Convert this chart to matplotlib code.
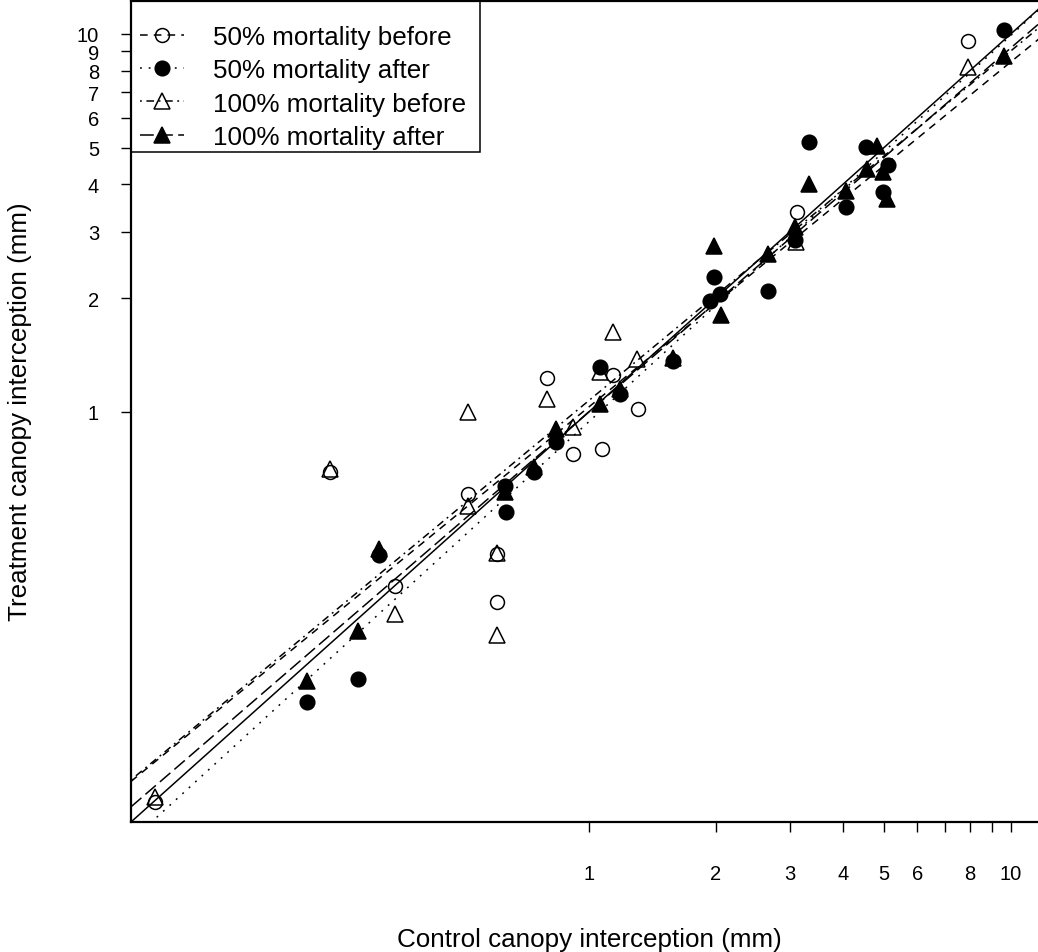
import matplotlib.pyplot as plt
from matplotlib.lines import Line2D
from matplotlib.patches import Rectangle
import numpy as np

plt.rcParams['font.family'] = ['Liberation Sans', 'DejaVu Sans']

# 50% mortality before (open circles)
x_50_before = [0.0937, 0.2433, 0.3469, 0.5167, 0.6053, 0.6053, 0.7953, 0.9165,
               1.074, 1.140, 1.307, 3.111, 7.910]
y_50_before = [0.0929, 0.694, 0.3465, 0.607, 0.421, 0.3143, 1.230, 0.774,
               0.798, 1.253, 1.018, 3.381, 9.583]

# 50% mortality after (filled circles)
x_50_after = [0.2147, 0.2836, 0.3180, 0.6325, 0.6358, 0.7410, 0.8352, 1.062,
              1.184, 1.581, 1.978, 1.935, 2.044, 2.656, 3.077, 3.321, 4.064,
              4.533, 5.111, 4.973, 9.625]
y_50_after = [0.1709, 0.1966, 0.418, 0.637, 0.544, 0.694, 0.833, 1.315,
              1.116, 1.364, 2.276, 1.966, 2.052, 2.090, 2.851, 5.179, 3.485,
              5.023, 4.503, 3.819, 10.25]

# 100% mortality before (open triangles)
x_100_before = [0.0937, 0.2433, 0.3469, 0.5167, 0.5167, 0.6053, 0.6053, 0.7953,
                0.9165, 1.062, 1.140, 1.300, 3.094, 7.910]
y_100_before = [0.0958, 0.707, 0.2921, 0.564, 1.000, 0.424, 0.2571, 1.082,
                0.913, 1.276, 1.628, 1.381, 2.817, 8.178]

# 100% mortality after (filled triangles)
x_100_after = [0.2147, 0.2836, 0.3180, 0.6325, 0.7410, 0.8352, 1.062, 1.184,
               1.581, 1.978, 2.055, 2.656, 3.077, 3.321, 4.064, 4.558, 4.812,
               4.973, 5.084, 9.625]
y_100_after = [0.1942, 0.2634, 0.434, 0.614, 0.715, 0.902, 1.050, 1.150,
               1.390, 2.750, 1.806, 2.618, 3.086, 4.010, 3.843, 4.395, 5.054,
               4.315, 3.660, 8.745]

# fitted lines, log10(y) = a + b * log10(x)
fit_intercept = [0.013, -0.026, 0.030, 0.000]
fit_slope = [0.913, 1.022, 0.925, 0.963]

labels = ['50% mortality before', '50% mortality after',
          '100% mortality before', '100% mortality after']

x_ticks = [1, 2, 3, 4, 5, 6, 7, 8, 9, 10]
x_tick_labels = ['1', '2', '3', '4', '5', '6', '', '8', '', '10']
y_ticks = [1, 2, 3, 4, 5, 6, 7, 8, 9, 10]
y_tick_labels = ['1', '2', '3', '4', '5', '6', '7', '8', '9', '10']

lims = (0.0822, 12.22)

fig = plt.figure(figsize=(10.38, 9.53), dpi=100)
ax = fig.add_axes([131 / 1038, 130 / 953, 916.6 / 1038, 821 / 953])

xs = [x_50_before, x_50_after, x_100_before, x_100_after]
ys = [y_50_before, y_50_after, y_100_before, y_100_after]
markers = ['o', 'o', '^', '^']
faces = ['none', 'black', 'none', 'black']
sizes = [10, 10.5, 11.5, 11.5]
dashes = [(5, 4), (1.2, 4.5), (1.2, 3, 5, 3), (9, 3.5)]

for x, y, m, fc, ms in zip(xs, ys, markers, faces, sizes):
    ax.plot(x, y, linestyle='none', marker=m, ms=ms, mfc=fc, mec='black',
            mew=1.1, zorder=3)

xline = np.array(lims)
ax.plot(xline, xline, color='black', lw=1.1, zorder=2)
for a, b, d in zip(fit_intercept, fit_slope, dashes):
    yline = 10 ** (a + b * np.log10(xline))
    ax.plot(xline, yline, color='black', lw=1.1, dashes=d, zorder=2)

ax.set_xscale('log')
ax.set_yscale('log')
ax.set_xlim(lims)
ax.set_ylim(lims)
ax.minorticks_off()
ax.set_xticks(x_ticks)
ax.set_xticklabels(x_tick_labels)
ax.set_yticks(y_ticks)
ax.set_yticklabels(y_tick_labels)
ax.tick_params(axis='both', direction='out', length=7, width=1,
               labelsize=14.5, color='black')
ax.tick_params(axis='x', pad=23)
ax.tick_params(axis='y', pad=16)
for s in ax.spines.values():
    s.set_linewidth(1.6)

fig.text(589 / 1038, 1 - 940 / 953, 'Control canopy interception (mm)',
         ha='center', va='center', fontsize=18.7)
fig.text(20 / 1038, 1 - 412 / 953, 'Treatment canopy interception (mm)',
         ha='center', va='center', rotation=90, fontsize=18.7)

handles = []
for m, fc, ms, d in zip(markers, faces, sizes, dashes):
    handles.append(Line2D([0], [0], color='black', lw=1.1, dashes=d,
                          marker=m, ms=ms, mfc=fc, mec='black', mew=1.1))
ax.legend(handles, labels, loc='upper left', bbox_to_anchor=(0, 0.982),
          borderaxespad=0, frameon=False, fontsize=18.7, handlelength=1.7,
          handletextpad=1.1, borderpad=0.35, labelspacing=0.36)
ax.add_patch(Rectangle((0, 0.8161), 0.3808, 0.1839, transform=ax.transAxes,
                       fill=False, edgecolor='black', lw=1.1, zorder=4,
                       clip_on=False))

fig.savefig('out.png', dpi=100)
